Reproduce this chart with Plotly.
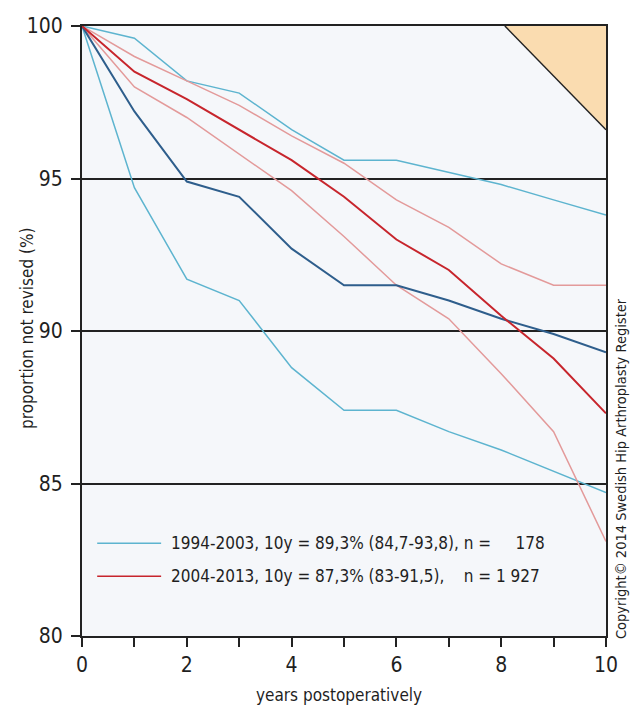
import plotly.graph_objects as go

years = [0, 1, 2, 3, 4, 5, 6, 7, 8, 9, 10]

# 1994-2003
p1_est = [100, 97.2, 94.9, 94.4, 92.7, 91.5, 91.5, 91.0, 90.4, 89.9, 89.3]
p1_upper = [100, 99.6, 98.2, 97.8, 96.6, 95.6, 95.6, 95.2, 94.8, 94.3, 93.8]
p1_lower = [100, 94.7, 91.7, 91.0, 88.8, 87.4, 87.4, 86.7, 86.1, 85.4, 84.7]

# 2004-2013
p2_est = [100, 98.5, 97.6, 96.6, 95.6, 94.4, 93.0, 92.0, 90.5, 89.1, 87.3]
p2_upper = [100, 99.0, 98.2, 97.4, 96.4, 95.5, 94.3, 93.4, 92.2, 91.5, 91.5]
p2_lower = [100, 98.0, 97.0, 95.8, 94.6, 93.1, 91.5, 90.4, 88.6, 86.7, 83.1]

# shaded corner region
tri_x = [8.07, 10, 10, 8.07]
tri_y = [100, 100, 96.6, 100]
diag_x = [8.07, 10]
diag_y = [100, 96.6]

legend_labels = [
    "1994-2003, 10y = 89,3% (84,7-93,8), n =&nbsp;&nbsp;&nbsp;&nbsp; 178",
    "2004-2013, 10y = 87,3% (83-91,5),&nbsp;&nbsp;&nbsp; n = 1 927",
]

x_tickvals = [0, 1, 2, 3, 4, 5, 6, 7, 8, 9, 10]
x_ticktext = ["0", "", "2", "", "4", "", "6", "", "8", "", "10"]
y_tickvals = [80, 85, 90, 95, 100]

FONT = "DejaVu Sans Condensed, Liberation Sans Narrow, sans-serif"
TXT = "#1f1f1f"
LBLUE = "#5DB4CF"
DBLUE = "#2E5E8C"
RED = "#C7252C"
PINK = "#E39A9A"

fig = go.Figure()

fig.add_trace(go.Scatter(x=tri_x, y=tri_y, fill="toself", fillcolor="#FADCB0",
                         line=dict(width=0), mode="lines", hoverinfo="skip", showlegend=False))
fig.add_trace(go.Scatter(x=diag_x, y=diag_y, mode="lines",
                         line=dict(color="#222222", width=1.5), showlegend=False))

for ys, col, w in [(p1_upper, LBLUE, 1.5), (p1_lower, LBLUE, 1.5),
                   (p2_upper, PINK, 1.5), (p2_lower, PINK, 1.5),
                   (p1_est, DBLUE, 2), (p2_est, RED, 2)]:
    fig.add_trace(go.Scatter(x=years, y=ys, mode="lines",
                             line=dict(color=col, width=w), showlegend=False))

# legend (drawn manually)
leg_y = [0.152, 0.098]
leg_cols = [LBLUE, RED]
for yy, col, lab in zip(leg_y, leg_cols, legend_labels):
    fig.add_shape(type="line", xref="paper", yref="paper",
                  x0=0.029, x1=0.151, y0=yy, y1=yy, line=dict(color=col, width=1.5))
    fig.add_annotation(xref="paper", yref="paper", x=0.166, y=yy, text=lab,
                       showarrow=False, xanchor="left", yanchor="middle",
                       font=dict(family=FONT, size=17, color=TXT))

fig.add_annotation(xref="paper", yref="paper", x=1.03, y=-0.008, xanchor="center",
                   yanchor="bottom", textangle=-90, showarrow=False,
                   text="Copyright© 2014 Swedish Hip Arthroplasty Register",
                   font=dict(family=FONT, size=14.5, color=TXT))

# axis titles
fig.add_annotation(xref="paper", yref="paper", x=0.49, y=-0.097, xanchor="center",
                   yanchor="middle", showarrow=False, text="years postoperatively",
                   font=dict(family=FONT, size=17, color=TXT))
fig.add_annotation(xref="paper", yref="paper", x=-0.105, y=0.505, xanchor="center",
                   yanchor="middle", textangle=-90, showarrow=False,
                   text="proportion not revised (%)",
                   font=dict(family=FONT, size=17, color=TXT))

fig.update_layout(
    width=635, height=708,
    margin=dict(l=82, r=29, t=26, b=72),
    paper_bgcolor="white",
    plot_bgcolor="#F5F7FA",
    font=dict(family=FONT, color=TXT),
    showlegend=False,
)
fig.update_xaxes(range=[0, 10], tickvals=x_tickvals, ticktext=x_ticktext,
                 ticks="outside", ticklen=9, tickwidth=2, tickcolor="#222",
                 showline=True, linecolor="#222", linewidth=2, mirror=True,
                 showgrid=False, zeroline=False, automargin=False,
                 tickfont=dict(family=FONT, size=21, color=TXT))
fig.update_yaxes(range=[80, 100], tickvals=y_tickvals,
                 ticks="outside", ticklen=9, tickwidth=2, tickcolor="#222",
                 showline=True, linecolor="#222", linewidth=2, mirror=True,
                 showgrid=True, gridcolor="#222", gridwidth=2, zeroline=False,
                 automargin=False, ticklabelstandoff=4,
                 tickfont=dict(family=FONT, size=21, color=TXT))

fig.write_html("out.html")
